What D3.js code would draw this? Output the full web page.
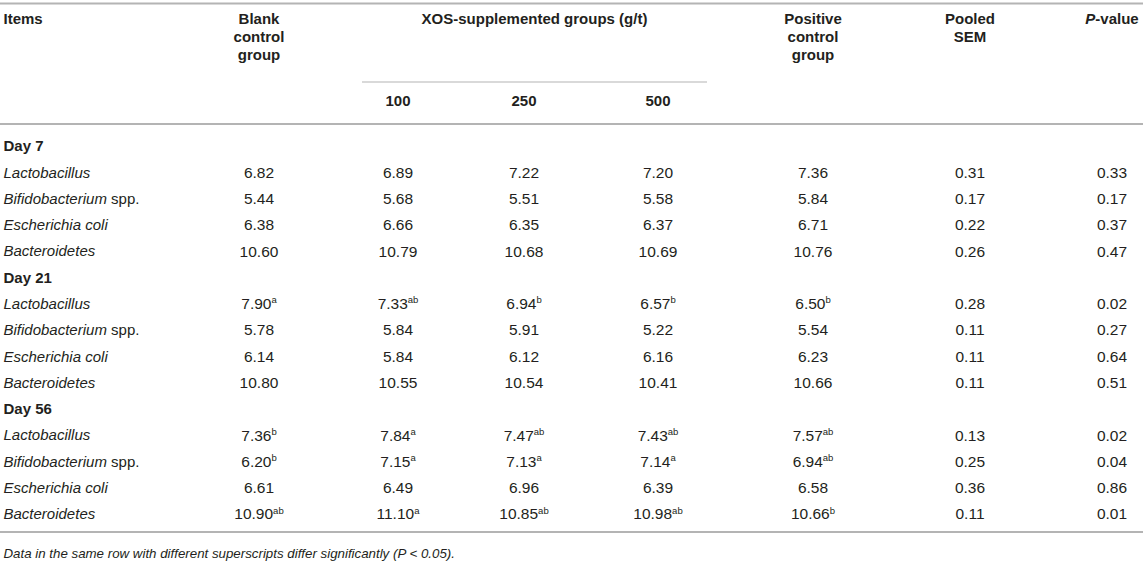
<!DOCTYPE html>
<html><head><meta charset="utf-8">
<script src="https://cdn.jsdelivr.net/npm/d3@7"></script>
<style>body{margin:0;background:#fff}svg{display:block}</style>
</head><body><svg id="c" width="1143" height="564"></svg>
<script>
const days = ["Day 7", "Day 21", "Day 56"];
const items = [["Lactobacillus", ""], ["Bifidobacterium", " spp."], ["Escherichia coli", ""], ["Bacteroidetes", ""]];
const columns = ["Blank control group", "100", "250", "500", "Positive control group", "Pooled SEM", "P-value"];
const blank    = [6.82, 5.44, 6.38, 10.60, 7.90, 5.78, 6.14, 10.80, 7.36, 6.20, 6.61, 10.90];
const blankSup = ["", "", "", "", "a", "", "", "", "b", "b", "", "ab"];
const xos100    = [6.89, 5.68, 6.66, 10.79, 7.33, 5.84, 5.84, 10.55, 7.84, 7.15, 6.49, 11.10];
const xos100Sup = ["", "", "", "", "ab", "", "", "", "a", "a", "", "a"];
const xos250    = [7.22, 5.51, 6.35, 10.68, 6.94, 5.91, 6.12, 10.54, 7.47, 7.13, 6.96, 10.85];
const xos250Sup = ["", "", "", "", "b", "", "", "", "ab", "a", "", "ab"];
const xos500    = [7.20, 5.58, 6.37, 10.69, 6.57, 5.22, 6.16, 10.41, 7.43, 7.14, 6.39, 10.98];
const xos500Sup = ["", "", "", "", "b", "", "", "", "ab", "a", "", "ab"];
const positive    = [7.36, 5.84, 6.71, 10.76, 6.50, 5.54, 6.23, 10.66, 7.57, 6.94, 6.58, 10.66];
const positiveSup = ["", "", "", "", "b", "", "", "", "ab", "ab", "", "b"];
const sem    = [0.31, 0.17, 0.22, 0.26, 0.28, 0.11, 0.11, 0.11, 0.13, 0.25, 0.36, 0.11];
const pvalue = [0.33, 0.17, 0.37, 0.47, 0.02, 0.27, 0.64, 0.51, 0.02, 0.04, 0.86, 0.01];
const footnote = "Data in the same row with different superscripts differ significantly (P < 0.05).";

const svg = d3.select("#c");
const FONT = "'Liberation Sans', Arial, Helvetica, sans-serif";
const TXT = "#231f20";
const LINE = "#b4b4b4";
const LX = 3.5;
svg.style("font-family", FONT).style("font-size", "15px");

// column centers
const colX = d3.scaleOrdinal().domain(columns).range([259, 398, 524, 658, 813, 970, 1112]);

// rows: 15 body rows (day header + 4 items each)
const rows = [];
days.forEach((d, di) => {
  rows.push({type: "day", label: d});
  items.forEach((it, ii) => rows.push({type: "item", label: it, idx: di * 4 + ii}));
});
const rowY = d3.scalePoint().domain(d3.range(rows.length)).range([146, 514]);

// rules
const hl = (x1, x2, y, w) => svg.append("line").attr("x1", x1).attr("x2", x2).attr("y1", y).attr("y2", y)
  .attr("stroke", LINE).attr("stroke-width", w);
hl(0, 1143, 3.5, 2);
hl(362, 707, 82, 1.2);
hl(0, 1143, 124, 2);
hl(0, 1143, 532, 2);

// header
const hdr = svg.append("g").attr("font-weight", "bold").attr("fill", TXT);
hdr.append("text").attr("x", LX).attr("y", 19).attr("dy", "0.35em").text("Items");
const multi = (col, lines) => lines.forEach((l, i) =>
  hdr.append("text").attr("x", colX(col)).attr("y", 19 + i * 18).attr("dy", "0.35em")
    .attr("text-anchor", "middle").text(l));
multi(columns[0], ["Blank", "control", "group"]);
multi(columns[4], ["Positive", "control", "group"]);
multi(columns[5], ["Pooled", "SEM"]);
hdr.append("text").attr("x", (362 + 707) / 2).attr("y", 19).attr("dy", "0.35em").attr("text-anchor", "middle")
  .text("XOS-supplemented groups (g/t)");
["100", "250", "500"].forEach(c => hdr.append("text").attr("x", colX(c)).attr("y", 101).attr("dy", "0.35em")
  .attr("text-anchor", "middle").text(c));
const pv = hdr.append("text").attr("x", colX("P-value")).attr("y", 19).attr("dy", "0.35em").attr("text-anchor", "middle");
pv.append("tspan").attr("font-style", "italic").text("P");
pv.append("tspan").text("-value");

// body
const colData = [[blank, blankSup], [xos100, xos100Sup], [xos250, xos250Sup], [xos500, xos500Sup],
  [positive, positiveSup], [sem, null], [pvalue, null]];
const body = svg.append("g").attr("fill", TXT);
rows.forEach((r, i) => {
  const y = rowY(i);
  if (r.type === "day") {
    body.append("text").attr("x", LX).attr("y", y).attr("dy", "0.35em").attr("font-weight", "bold").text(r.label);
    return;
  }
  const t = body.append("text").attr("x", LX).attr("y", y).attr("dy", "0.35em");
  t.append("tspan").attr("font-style", "italic").text(r.label[0]);
  if (r.label[1]) t.append("tspan").text(r.label[1]);
  colData.forEach(([vals, sups], ci) => {
    const sup = sups ? sups[r.idx] : "";
    const g = body.append("text").attr("x", colX(columns[ci]))
      .attr("y", y).attr("dy", "0.35em").attr("text-anchor", "middle").attr("font-size", "15.5px");
    g.append("tspan").text(vals[r.idx].toFixed(2));
    if (sup) g.append("tspan").attr("font-size", "9.5px").attr("dy", "-0.6em").text(sup);
  });
});

// footnote
svg.append("text").attr("x", LX).attr("y", 553).attr("dy", "0.35em").attr("font-style", "italic")
  .attr("font-size", "13.3px").attr("fill", TXT).text(footnote);
</script></body></html>
